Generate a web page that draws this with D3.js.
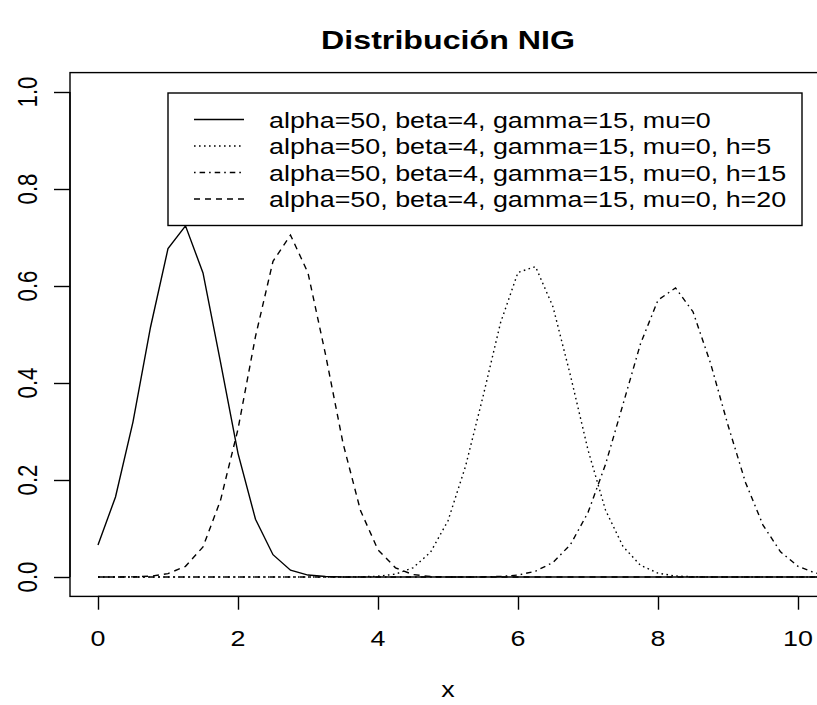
<!DOCTYPE html>
<html>
<head>
<meta charset="utf-8">
<script src="https://cdn.jsdelivr.net/npm/d3@7"></script>
<style>
  html, body { margin: 0; padding: 0; background: #fff; }
  svg { display: block; }
  text { font-family: "Liberation Sans", Arial, sans-serif; fill: #000; }
</style>
</head>
<body>
<div id="chart"></div>
<script>
// ---- data ----
const title = "Distribución NIG";
const xLabel = "x";
const xTicks = [0, 2, 4, 6, 8, 10];
const yTicks = [0.0, 0.2, 0.4, 0.6, 0.8, 1.0];
const yTickLabels = ["0.0", "0.2", "0.4", "0.6", "0.8", "1.0"];

const xs = [0, 0.25, 0.5, 0.75, 1, 1.25, 1.5, 1.75, 2, 2.25, 2.5, 2.75, 3, 3.25, 3.5, 3.75,
            4, 4.25, 4.5, 4.75, 5, 5.25, 5.5, 5.75, 6, 6.25, 6.5, 6.75, 7, 7.25, 7.5, 7.75,
            8, 8.25, 8.5, 8.75, 9, 9.25, 9.5, 9.75, 10, 10.25, 10.5];

const seriesNames = [
  "alpha=50, beta=4, gamma=15, mu=0",
  "alpha=50, beta=4, gamma=15, mu=0, h=5",
  "alpha=50, beta=4, gamma=15, mu=0, h=15",
  "alpha=50, beta=4, gamma=15, mu=0, h=20"
];

const ySolid = [0.066, 0.165, 0.320, 0.515, 0.677, 0.724, 0.627, 0.443, 0.255, 0.119, 0.046, 0.014, 0.004, 0.001, 0, 0,
                0, 0, 0, 0, 0, 0, 0, 0, 0, 0, 0, 0, 0, 0, 0, 0,
                0, 0, 0, 0, 0, 0, 0, 0, 0, 0, 0];
const yH5 = [0, 0, 0, 0, 0, 0, 0, 0, 0, 0, 0, 0, 0, 0, 0, 0.0004,
             0.0016, 0.006, 0.019, 0.051, 0.116, 0.228, 0.372, 0.524, 0.628, 0.640, 0.557, 0.415, 0.262, 0.138, 0.063, 0.024,
             0.008, 0.002, 0.0005, 0, 0, 0, 0, 0, 0, 0, 0];
const yH15 = [0, 0, 0, 0, 0, 0, 0, 0, 0, 0, 0, 0, 0, 0, 0, 0,
              0, 0, 0, 0, 0, 0, 0.0003, 0.0012, 0.004, 0.012, 0.030, 0.067, 0.133, 0.232, 0.356, 0.481,
              0.571, 0.596, 0.547, 0.441, 0.313, 0.195, 0.107, 0.052, 0.022, 0.008, 0.003];
const yH20 = [0, 0, 0.0003, 0.0016, 0.007, 0.022, 0.062, 0.158, 0.305, 0.496, 0.651, 0.705, 0.627, 0.459, 0.276, 0.137,
              0.056, 0.019, 0.005, 0.001, 0, 0, 0, 0, 0, 0, 0, 0, 0, 0, 0, 0,
              0, 0, 0, 0, 0, 0, 0, 0, 0, 0, 0];

const seriesValues = [ySolid, yH5, yH15, yH20];
const seriesDash = [null, "1.6,3.4", "1.6,4,5.5,4", "6,5"];

// ---- layout ----
const W = 817, H = 705;
const SX = 1.21;               // horizontal stretch of the original picture
const fs = 22.2;               // base font size
const plot = { left: 70, right: 826, top: 72.6, bottom: 596.4 };

const svg = d3.select("#chart").append("svg")
  .attr("width", W).attr("height", H);

const x = d3.scaleLinear().domain([-0.4, 10.4]).range([plot.left, plot.right]);
const y = d3.scaleLinear().domain([-0.04, 1.04]).range([plot.bottom, plot.top]);

function stretchedText(g, tx, ty, str, opts = {}) {
  const t = g.append("text")
    .attr("transform", `translate(${tx},${ty})` + (opts.rotate ? ` rotate(-90) scale(1,${SX})` : ` scale(${SX},1)`))
    .attr("text-anchor", opts.anchor || "middle")
    .style("font-size", (opts.size || fs) + "px")
    .text(str);
  if (opts.bold) t.style("font-weight", "bold");
  return t;
}

// clip
svg.append("clipPath").attr("id", "clip")
  .append("rect").attr("x", plot.left).attr("y", plot.top)
  .attr("width", plot.right - plot.left).attr("height", plot.bottom - plot.top);

// curves
const line = d3.line().x((d, i) => x(xs[i])).y(d => y(d));
const curves = svg.append("g").attr("clip-path", "url(#clip)");
seriesValues.forEach((vals, k) => {
  curves.append("path")
    .datum(vals)
    .attr("d", line)
    .attr("fill", "none")
    .attr("stroke", "#000")
    .attr("stroke-width", 1.4)
    .attr("stroke-dasharray", seriesDash[k]);
});

// box
svg.append("rect")
  .attr("x", plot.left).attr("y", plot.top)
  .attr("width", plot.right - plot.left).attr("height", plot.bottom - plot.top)
  .attr("fill", "none").attr("stroke", "#000").attr("stroke-width", 1.4);

// x axis
const xAxis = d3.axisBottom(x).tickValues(xTicks).tickSize(13.3).tickFormat("");
const gx = svg.append("g").attr("transform", `translate(0,${plot.bottom})`).call(xAxis);
gx.select(".domain").attr("d", `M${x(xTicks[0])},0H${x(xTicks[xTicks.length - 1])}`).attr("stroke-width", 1.4);
gx.selectAll(".tick line").attr("stroke-width", 1.4);
xTicks.forEach(v => stretchedText(svg, x(v), 646, String(v)));

// y axis
const yAxis = d3.axisLeft(y).tickValues(yTicks).tickSize(16).tickFormat("");
const gy = svg.append("g").attr("transform", `translate(${plot.left},0)`).call(yAxis);
gy.select(".domain").attr("d", `M0,${y(yTicks[0])}V${y(yTicks[yTicks.length - 1])}`).attr("stroke-width", 1.4);
gy.selectAll(".tick line").attr("stroke-width", 1.4);
yTicks.forEach((v, i) => stretchedText(svg, 37, y(v), yTickLabels[i], { rotate: true }));

// title and axis label
stretchedText(svg, 448, 49, title, { bold: true, size: 26.6 });
stretchedText(svg, 448, 697, xLabel);

// legend
const leg = { left: 168, right: 802, top: 93, bottom: 225.5 };
svg.append("rect")
  .attr("x", leg.left).attr("y", leg.top)
  .attr("width", leg.right - leg.left).attr("height", leg.bottom - leg.top)
  .attr("fill", "#fff").attr("stroke", "#000").attr("stroke-width", 1.4);
const rowH = (leg.bottom - leg.top) / 5;
seriesNames.forEach((name, k) => {
  const ry = leg.top + rowH * (k + 1);
  svg.append("line")
    .attr("x1", 194).attr("x2", 244).attr("y1", ry).attr("y2", ry)
    .attr("stroke", "#000").attr("stroke-width", 1.3)
    .attr("stroke-dasharray", seriesDash[k]);
  stretchedText(svg, 269, ry + 8, name, { anchor: "start" });
});
</script>
</body>
</html>
